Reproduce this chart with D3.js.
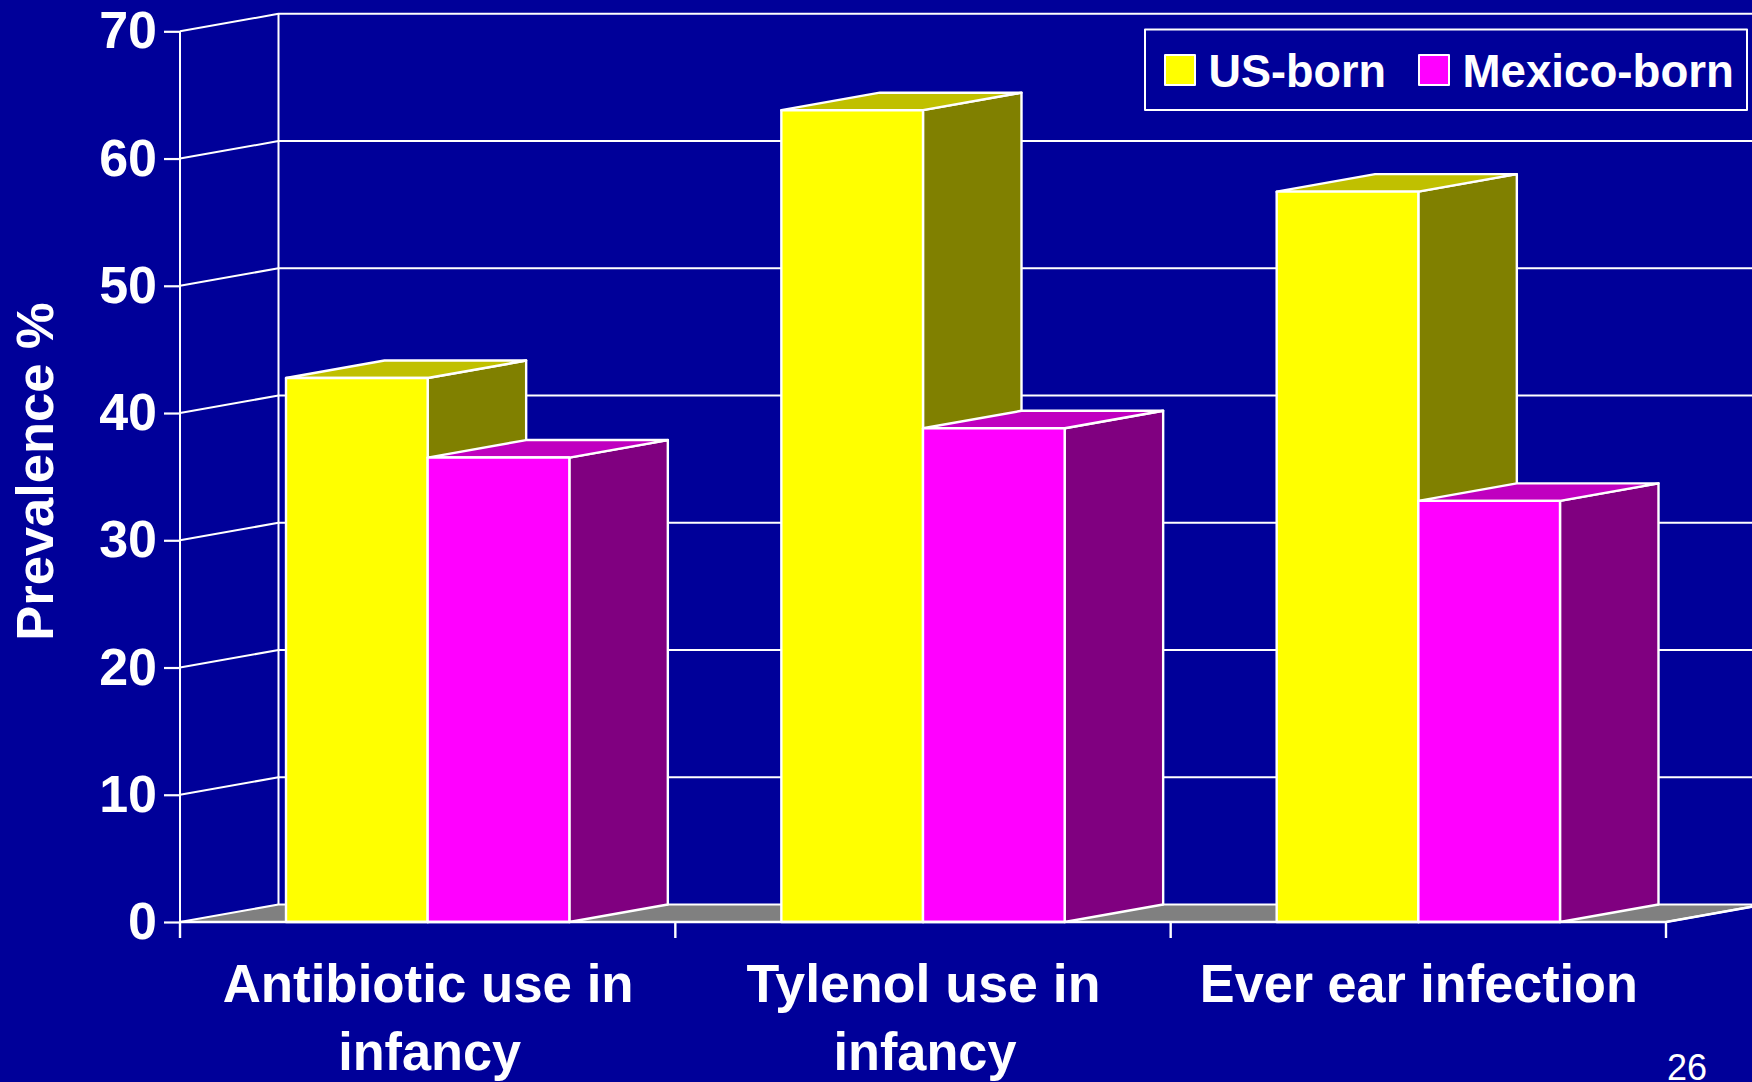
<!DOCTYPE html>
<html><head><meta charset="utf-8">
<style>html,body{margin:0;padding:0;background:#000099;overflow:hidden}svg{display:block}text{font-family:"Liberation Sans",Arial,sans-serif;fill:#fff}</style>
<script src="https://cdn.jsdelivr.net/npm/d3@7"></script></head><body>
<script>
const categories = ["Antibiotic use in infancy", "Tylenol use in infancy", "Ever ear infection"];
const categoryLines = [["Antibiotic use in", "infancy"], ["Tylenol use in", "infancy"], ["Ever ear infection"]];
const categoryLineWidths = [[411, 183], [354, 183], [438]];
const seriesNames = ["US-born", "Mexico-born"];
const usBorn = [42.75, 63.8, 57.4];
const mexicoBorn = [36.5, 38.8, 33.1];
const yTicks = [0, 10, 20, 30, 40, 50, 60, 70];
const yTitle = "Prevalence %";
const pageNumber = "26";
const frontColors = ["#ffff00", "#ff00ff"];
const sideColors = ["#808000", "#800080"];
const topColors = ["#c0c000", "#c000c0"];

const W = 1752, H = 1082, BG = "#000099";
const dx = 98.5, dy = -17.5;
const svg = d3.select("body").append("svg").attr("width", W).attr("height", H);
svg.append("rect").attr("width", W).attr("height", H).attr("fill", BG);
const y = d3.scaleLinear().domain([0, 70]).range([922, 31.3]);
const x = d3.scaleBand().domain(categories).range([180, 1666]).paddingInner(0.428).paddingOuter(0.214);
const xs = d3.scaleBand().domain(seriesNames).range([0, x.bandwidth()]);
const series = [usBorn, mexicoBorn];
const line = d3.line();
const x0 = x.range()[0], x1 = x.range()[1];
const stroke = s => s.attr("stroke", "#fff").attr("stroke-linejoin", "round");

// floor
svg.append("path").attr("d", line([[x0, y(0)], [x0 + dx, y(0) + dy], [x1 + dx, y(0) + dy], [x1, y(0)]]) + "Z")
  .attr("fill", "#808080").call(stroke).attr("stroke-width", 2.2);
// grid on walls
const grid = svg.append("g").attr("fill", "none").call(stroke).attr("stroke-width", 2);
yTicks.filter(t => t > 0).forEach(t => {
  grid.append("path").attr("d", line([[x0, y(t)], [x0 + dx, y(t) + dy], [x1 + dx, y(t) + dy]]));
});
grid.append("path").attr("d", line([[x0 + dx, y(70) + dy], [x0 + dx, y(0) + dy]]));
grid.append("path").attr("d", line([[x0, y(70)], [x0, y(0)]]));

// axes
const yAxis = d3.axisLeft(y).tickValues(yTicks).tickSize(16).tickPadding(7);
const gy = svg.append("g").attr("transform", `translate(${x0},0)`).call(yAxis);
gy.select(".domain").remove();
gy.selectAll("line").attr("stroke", "#fff").attr("stroke-width", 2.2);
gy.selectAll("text").style("font-family", '"Liberation Sans",Arial,sans-serif').style("font-size", "52px").style("font-weight", "700").attr("fill", "#fff");

// bars
categories.forEach((c, ci) => {
  seriesNames.forEach((s, si) => {
    const v = series[si][ci];
    const l = x(c) + xs(s), r = l + xs.bandwidth(), t = y(v), b = y(0);
    const g = svg.append("g").call(stroke).attr("stroke-width", 2.4);
    g.append("path").attr("fill", sideColors[si]).attr("d", line([[r, t], [r + dx, t + dy], [r + dx, b + dy], [r, b]]) + "Z");
    g.append("path").attr("fill", topColors[si]).attr("d", line([[l, t], [l + dx, t + dy], [r + dx, t + dy], [r, t]]) + "Z");
    g.append("path").attr("fill", frontColors[si]).attr("d", line([[l, t], [r, t], [r, b], [l, b]]) + "Z");
  });
});

// front baseline and x ticks
const base = svg.append("g").call(stroke).attr("stroke-width", 2.4).attr("fill", "none");
base.append("path").attr("d", line([[x0, y(0)], [x1, y(0)], [x1 + dx, y(0) + dy]]));
d3.range(categories.length + 1).forEach(i => {
  const tx = x0 + i * x.step();
  base.append("path").attr("d", line([[tx, y(0)], [tx, y(0) + 16]]));
});

// category labels
categories.forEach((c, i) => {
  const cx = x(c) + x.bandwidth() / 2;
  categoryLines[i].forEach((t, j) => {
    svg.append("text").attr("x", cx + (j ? 2 : 0.5)).attr("y", 1002 + j * 68)
      .attr("text-anchor", "middle").attr("font-size", 53).attr("font-weight", 700)
      .attr("textLength", categoryLineWidths[i][j]).attr("lengthAdjust", "spacingAndGlyphs").text(t);
  });
});

// y title
svg.append("text").attr("transform", "translate(52.5,471.5) rotate(-90)")
  .attr("text-anchor", "middle").attr("font-size", 52.5).attr("font-weight", 700).text(yTitle);

// legend
svg.append("rect").attr("x", 1145).attr("y", 29.5).attr("width", 602).attr("height", 80.5)
  .attr("fill", BG).call(stroke).attr("stroke-width", 2);
const swatchX = [1165, 1419], textX = [1208.5, 1462.5], textW = [177.5, 271.5];
seriesNames.forEach((s, i) => {
  svg.append("rect").attr("x", swatchX[i]).attr("y", 55).attr("width", 30).attr("height", 30)
    .attr("fill", frontColors[i]).call(stroke).attr("stroke-width", 2);
  svg.append("text").attr("x", textX[i]).attr("y", 87).attr("font-size", 47).attr("font-weight", 700)
    .attr("textLength", textW[i]).attr("lengthAdjust", "spacingAndGlyphs").text(s);
});

// page number
svg.append("text").attr("x", 1667).attr("y", 1080).attr("font-size", 36).text(pageNumber);
</script></body></html>
